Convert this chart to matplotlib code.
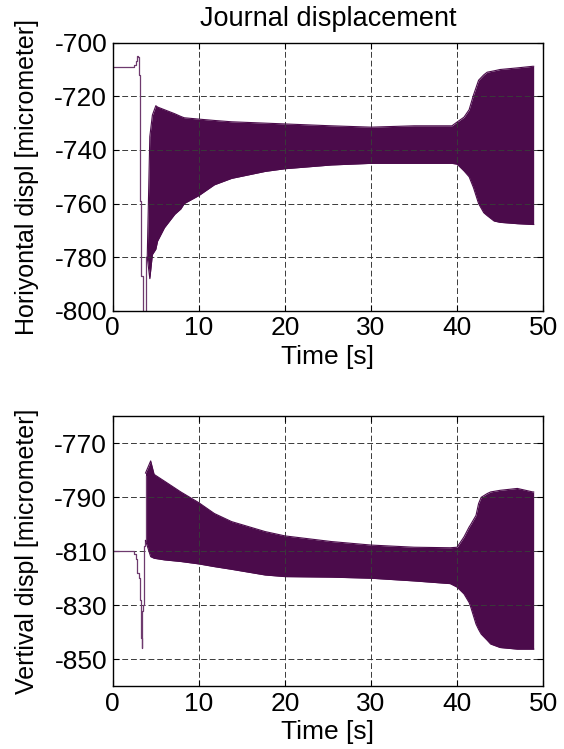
import matplotlib
matplotlib.use("Agg")
import matplotlib.pyplot as plt

plt.rcParams['font.family'] = ['Liberation Sans', 'DejaVu Sans']
plt.rcParams['axes.unicode_minus'] = False

# start-up transient, horizontal journal position
t_start_h = [0, 2.3, 2.5, 2.7, 2.85, 2.95, 3.0, 3.15, 3.2, 3.25, 3.3, 3.45, 3.5, 3.75, 3.8, 4.0]
h_start = [-709, -709, -708.5, -707, -705, -705.5, -712, -713, -759, -786, -787, -787, -805, -805, -780, -780]

# envelope of the horizontal oscillation
t_env_h = [4.0, 4.3, 4.6, 5.0, 5.2, 6.0, 7.2, 7.9, 8.3, 10, 11.8, 13.8, 17.7, 20, 25.4, 30,
           35, 39.4, 40, 40.8, 41.4, 41.9, 42.5, 43.1, 43.5, 44.3, 45, 47, 48.8, 48.9]
h_upper = [-780, -735, -727, -723.5, -724, -725, -726.5, -727.5, -728, -728.5, -729, -729.5, -730, -730.3,
           -731, -731.5, -731, -731, -729.6, -727.8, -725, -719.6, -714, -712, -711, -710.5, -710,
           -709.4, -708.8, -708.8]
h_lower = [-780, -788, -779, -777, -774, -769, -764, -762, -760, -757, -753, -750.6, -748, -747,
           -745.6, -745, -745, -745, -745.3, -747.8, -750, -754, -760, -763.4, -764.5, -766.5, -767,
           -767.5, -767.8, -767.8]

# start-up transient, vertical journal position
t_start_v = [0, 2.2, 2.5, 2.7, 2.8, 3.1, 3.2, 3.3, 3.4, 3.45, 3.55, 3.6, 3.75, 3.8]
v_start = [-810, -810, -811, -813, -818, -820, -828, -842, -846, -832, -830, -808, -806, -782]

# envelope of the vertical oscillation
t_env_v = [3.8, 4.4, 4.8, 6.0, 7.9, 10, 11.8, 13.8, 17.7, 20, 25.4, 30, 35, 39.2, 40, 40.8,
           41.4, 41.6, 42.2, 42.5, 42.8, 43.5, 43.9, 45, 47, 48.8, 48.9]
v_upper = [-781, -776.5, -781.5, -784, -788, -792, -796, -799, -802.7, -804.3, -806.4, -807.7,
           -808.5, -808.7, -808.5, -804.7, -801, -800, -796.7, -792.3, -790, -788.6, -788, -787.4,
           -786.7, -788, -788]
v_lower = [-806, -812, -812.6, -813.2, -813.8, -814.7, -815.7, -816.7, -818.8, -819.4, -819.6,
           -820, -821, -822, -823.3, -825.8, -829, -830.8, -837, -839, -840.7, -843, -844.4,
           -845.7, -846.3, -846.3, -846.3]

x_ticks = [0, 10, 20, 30, 40, 50]
h_ticks = [-800, -780, -760, -740, -720, -700]
v_ticks = [-850, -830, -810, -790, -770]

line_color = '#4b0b4b'
fs = 19


def style_axes(ax, yticks, ylim, ylabel):
    ax.set_xlim(0, 50)
    ax.set_ylim(*ylim)
    ax.set_xticks(x_ticks)
    ax.set_yticks(yticks)
    ax.tick_params(direction='in', top=True, right=True, labelsize=fs, length=4, width=0.8, pad=4)
    ax.grid(True, color='#3a3a3a', linestyle=(0, (6, 3)), linewidth=0.7)
    for s in ax.spines.values():
        s.set_linewidth(1.0)
    ax.set_xlabel('Time [s]', fontsize=fs, labelpad=3)
    ax.set_ylabel(ylabel, fontsize=18, labelpad=11)


fig = plt.figure(figsize=(5.64, 7.49), dpi=100)

ax1 = fig.add_axes([0.2, 0.585, 0.763, 0.358])
ax1.plot(t_start_h, h_start, color='#6e3a6e', linewidth=0.9, drawstyle='steps-post')
ax1.fill_between(t_env_h, h_lower, h_upper, color=line_color, linewidth=0)
ax1.plot(t_env_h, h_upper, color=line_color, linewidth=0.8)
ax1.plot(t_env_h, h_lower, color=line_color, linewidth=0.8)
style_axes(ax1, h_ticks, (-800, -700), 'Horiyontal displ [micrometer]')
ax1.set_title('Journal displacement', fontsize=fs + 0.5, pad=12)

ax2 = fig.add_axes([0.2, 0.084, 0.763, 0.36])
ax2.plot(t_start_v, v_start, color='#6e3a6e', linewidth=0.9, drawstyle='steps-post')
ax2.fill_between(t_env_v, v_lower, v_upper, color=line_color, linewidth=0)
ax2.plot(t_env_v, v_upper, color=line_color, linewidth=0.8)
ax2.plot(t_env_v, v_lower, color=line_color, linewidth=0.8)
style_axes(ax2, v_ticks, (-860, -760), 'Vertival displ [micrometer]')

fig.savefig('out.png', dpi=100)
